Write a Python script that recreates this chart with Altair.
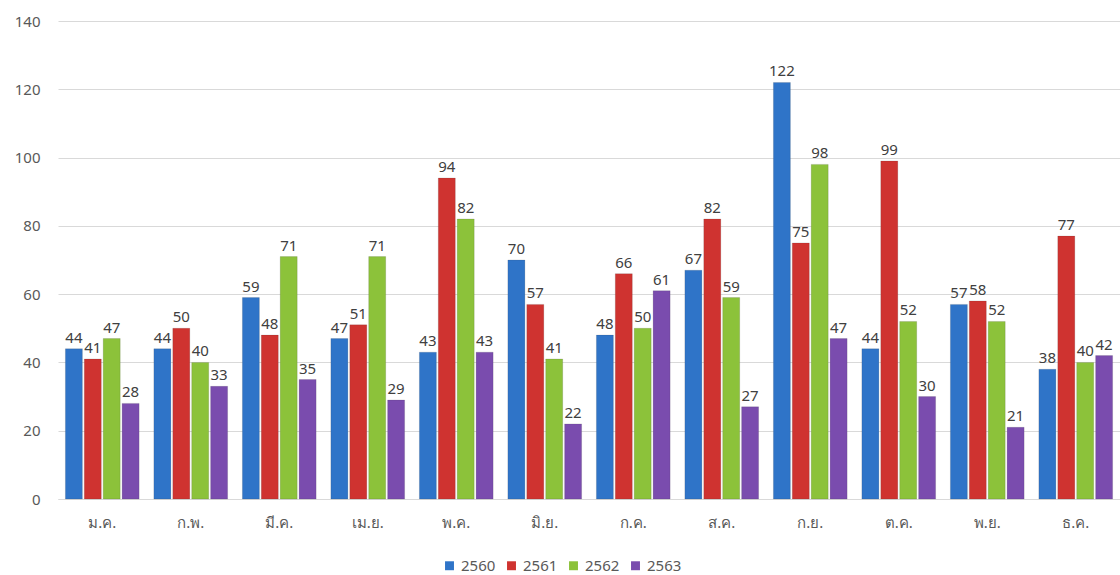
import altair as alt
import pandas as pd

months = ["ม.ค.", "ก.พ.", "มี.ค.", "เม.ย.", "พ.ค.", "มิ.ย.", "ก.ค.", "ส.ค.", "ก.ย.", "ต.ค.", "พ.ย.", "ธ.ค."]
series = ["2560", "2561", "2562", "2563"]
v2560 = [44, 44, 59, 47, 43, 70, 48, 67, 122, 44, 57, 38]
v2561 = [41, 50, 48, 51, 94, 57, 66, 82, 75, 99, 58, 77]
v2562 = [47, 40, 71, 71, 82, 41, 50, 59, 98, 52, 52, 40]
v2563 = [28, 33, 35, 29, 43, 22, 61, 27, 47, 30, 21, 42]
colors = ["#2F74C8", "#CF3330", "#8CC23A", "#7A4CAE"]

rows = []
for s, vals in zip(series, [v2560, v2561, v2562, v2563]):
    for m, v in zip(months, vals):
        rows.append({"month": m, "year": s, "value": v})
df = pd.DataFrame(rows)

FONT = "Noto Sans"

x = alt.X("month:N", sort=months, title=None,
          scale=alt.Scale(paddingInner=0, paddingOuter=0),
          axis=alt.Axis(labelAngle=0, labelFontSize=15, labelColor="#595959",
                        labelPadding=16, ticks=False, domain=True, grid=False,
                        domainColor="#D9D9D9", labelFont=FONT))
xo = alt.XOffset("year:N", sort=series,
                 scale=alt.Scale(paddingInner=0.1, paddingOuter=0.39))
y = alt.Y("value:Q", title=None,
          scale=alt.Scale(domain=[0, 140], nice=False),
          axis=alt.Axis(values=list(range(0, 141, 20)), labelFontSize=15,
                        labelColor="#595959", labelPadding=18, ticks=False,
                        domain=False, gridColor="#D9D9D9", labelFont=FONT))

bars = alt.Chart(df).mark_bar(strokeWidth=0.6, stroke="#333333", strokeOpacity=0.25).encode(
    x=x, xOffset=xo, y=y,
    color=alt.Color("year:N", sort=series,
                    scale=alt.Scale(domain=series, range=colors),
                    legend=alt.Legend(title=None, orient="none", direction="horizontal",
                                      legendX=384, legendY=537, symbolType="square",
                                      symbolSize=80, labelFontSize=15, labelColor="#595959",
                                      columnPadding=8, labelFont=FONT, symbolStrokeWidth=0)),
)

labels = alt.Chart(df).mark_text(dy=-11, fontSize=15, color="#404040", font=FONT).encode(
    x=alt.X("month:N", sort=months), xOffset=alt.XOffset("year:N", sort=series),
    y="value:Q", text="value:Q",
)

chart = (bars + labels).properties(
    width=1062, height=478,
    padding={"left": 58, "top": 21, "right": 0, "bottom": 76},
    autosize=alt.AutoSizeParams(type="none"),
    background="white",
).configure_view(stroke=None)

chart.save("out.html", embed_options={"renderer": "svg", "actions": False})
